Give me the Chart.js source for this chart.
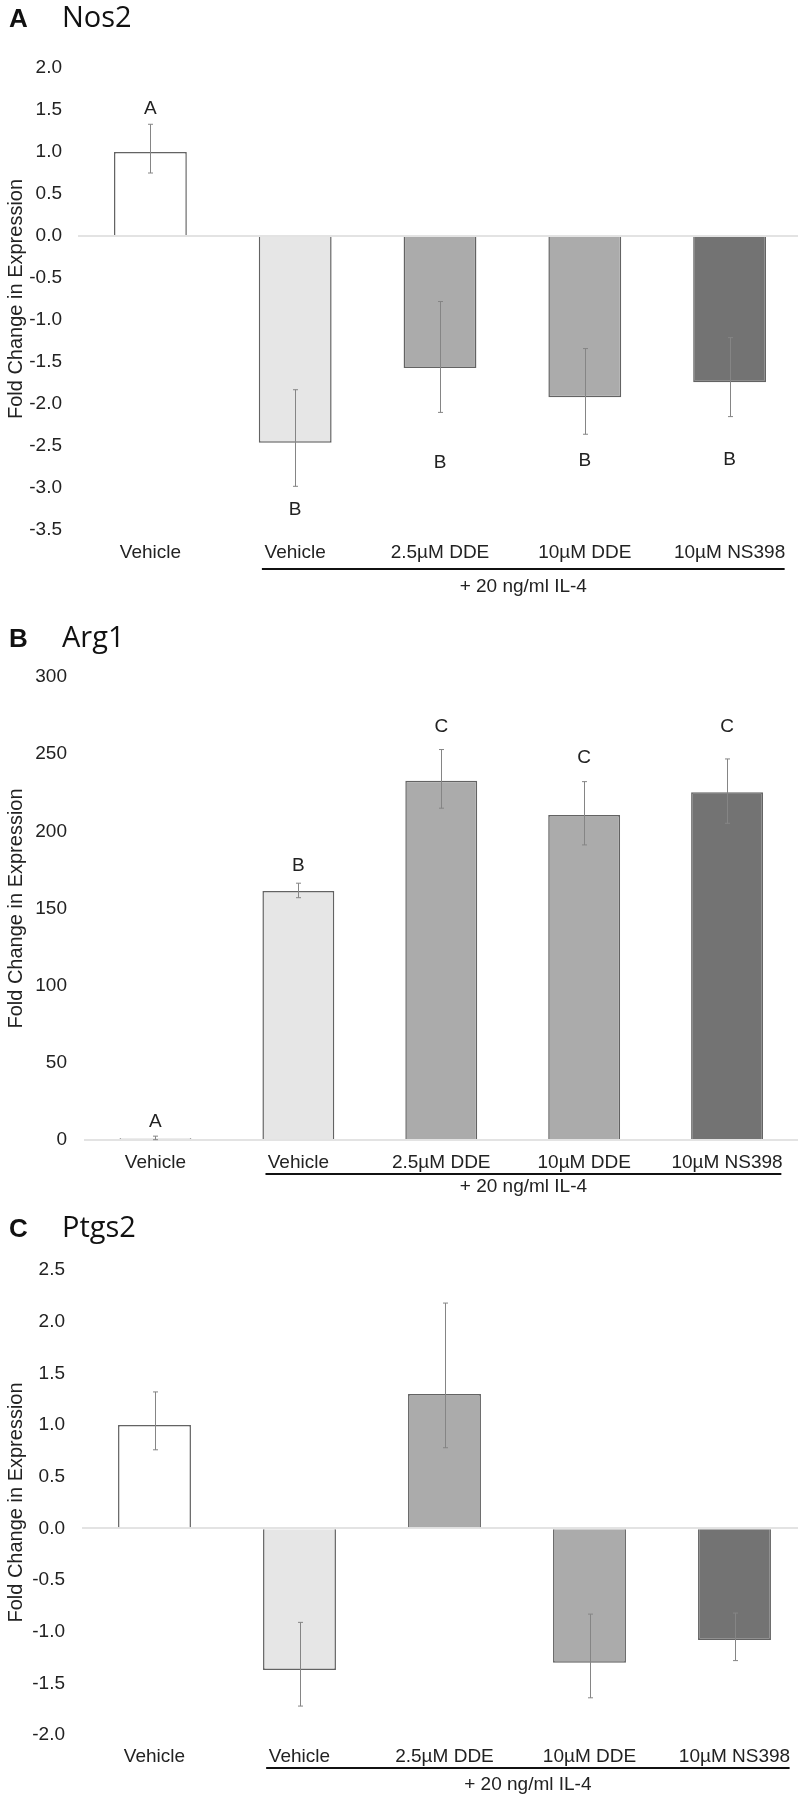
<!DOCTYPE html>
<html>
<head>
<meta charset="utf-8">
<script src="https://cdn.jsdelivr.net/npm/chart.js@4"></script>
<style>
  html, body { margin: 0; padding: 0; background: #fff; }
  #page { position: relative; width: 798px; height: 1800px; overflow: hidden; }
  canvas { position: absolute; left: 0; }
</style>
</head>
<body>
<div id="page">
  <canvas id="nos2Chart" width="810" height="605" style="top:0px"></canvas>
  <canvas id="arg1Chart" width="810" height="600" style="top:605px"></canvas>
  <canvas id="ptgs2Chart" width="810" height="595" style="top:1205px"></canvas>
</div>
<script>
const categories = ["Vehicle", "Vehicle", "2.5µM DDE", "10µM DDE", "10µM NS398"];
const barColors = ["#ffffff", "#e6e6e6", "#ababab", "#ababab", "#737373"];
const groupLabel = "+ 20 ng/ml IL-4";

// Nos2
const nos2Values = [1.0, -2.46, -1.57, -1.92, -1.74];
const nos2ErrHigh = [1.33, -1.83, -0.78, -1.34, -1.21];
const nos2ErrLow = [0.75, -2.98, -2.10, -2.36, -2.15];
const nos2Letters = ["A", "B", "B", "B", "B"];
const nos2LetterAt = [1.52, -3.26, -2.70, -2.68, -2.66];

// Arg1
const arg1Values = [1.2, 161.4, 232.7, 210.6, 225.3];
const arg1ErrHigh = [2.5, 166.4, 253.0, 232.2, 246.9];
const arg1ErrLow = [0.2, 157.0, 215.0, 191.2, 205.2];
const arg1Letters = ["A", "B", "C", "C", "C"];
const arg1LetterAt = [11.7, 178, 268, 247.6, 268];

// Ptgs2
const ptgs2Values = [1.0, -1.37, 1.30, -1.30, -1.08];
const ptgs2ErrHigh = [1.32, -0.91, 2.18, -0.83, -0.82];
const ptgs2ErrLow = [0.76, -1.72, 0.78, -1.64, -1.28];

const FONT = '"Liberation Sans", Arial, sans-serif';
Chart.defaults.font.family = FONT;
Chart.defaults.color = "#222";

// error bars, significance letters, IL-4 bracket and panel title
function extras(o) {
  return {
    id: "extras",
    afterDatasetsDraw(chart) {
      const ctx = chart.ctx;
      const xs = chart.scales.x, ys = chart.scales.y;
      const area = chart.chartArea;
      const bars = chart.getDatasetMeta(0).data;
      ctx.save();

      ctx.strokeStyle = "#858585";
      ctx.lineWidth = 1;
      bars.forEach((bar, i) => {
        const cx = Math.round(bar.x) + 0.5;
        const top = ys.getPixelForValue(o.high[i]);
        const bot = ys.getPixelForValue(o.low[i]);
        ctx.beginPath();
        ctx.moveTo(cx, top); ctx.lineTo(cx, bot);
        ctx.moveTo(cx - 2.5, top); ctx.lineTo(cx + 2.5, top);
        ctx.moveTo(cx - 2.5, bot); ctx.lineTo(cx + 2.5, bot);
        ctx.stroke();
      });

      ctx.fillStyle = "#222";
      ctx.font = "19px " + FONT;
      ctx.textAlign = "center";
      ctx.textBaseline = "middle";
      if (o.letters) {
        bars.forEach((bar, i) => {
          ctx.fillText(o.letters[i], bar.x, ys.getPixelForValue(o.letterAt[i]));
        });
      }

      const step = xs.getPixelForValue(1) - xs.getPixelForValue(0);
      const x0 = xs.getPixelForValue(1) - 0.23 * step;
      const x1 = xs.getPixelForValue(4) + 0.38 * step;
      ctx.fillStyle = "#111";
      ctx.fillRect(x0, area.bottom + o.lineGap - 1, x1 - x0, 2);
      ctx.fillStyle = "#222";
      ctx.fillText(groupLabel, (x0 + x1) / 2, area.bottom + o.groupGap);

      ctx.textAlign = "left";
      ctx.textBaseline = "alphabetic";
      ctx.fillStyle = "#111";
      ctx.font = "bold 26px " + FONT;
      ctx.fillText(o.panel, 9, o.titleBase);
      ctx.font = '29px "Open Sans", "Noto Sans", sans-serif';
      ctx.fillText(o.gene, 62, o.titleBase);
      ctx.restore();
    }
  };
}

function makeChart(id, values, yOpt, o) {
  const ctx = document.getElementById(id).getContext("2d");
  return new Chart(ctx, {
    type: "bar",
    data: {
      labels: categories,
      datasets: [{
        data: values,
        backgroundColor: barColors,
        borderColor: "#636363",
        borderWidth: 1.5,
        categoryPercentage: 1.0,
        barPercentage: 0.503
      }]
    },
    options: {
      responsive: false,
      animation: false,
      devicePixelRatio: 1,
      layout: { padding: { top: o.padTop, right: o.padRight, left: 0, bottom: 0 } },
      plugins: { legend: { display: false }, tooltip: { enabled: false } },
      scales: {
        x: {
          grid: { display: false, drawTicks: false },
          border: { display: false },
          ticks: { font: { size: 19 }, color: "#222", padding: o.labelPad, maxRotation: 0, autoSkip: false },
          afterFit: s => { s.height = o.axisHeight; }
        },
        y: {
          min: yOpt.min,
          max: yOpt.max,
          ticks: {
            stepSize: yOpt.step,
            padding: o.tickPad,
            font: { size: 19 },
            color: "#222",
            callback: v => yOpt.decimals ? Number(v).toFixed(1) : String(Math.round(v))
          },
          grid: {
            drawTicks: false,
            lineWidth: 2,
            color: c => (c.tick && Math.abs(c.tick.value) < 1e-9) ? "#e3e3e3" : "rgba(0,0,0,0)"
          },
          border: { display: false },
          title: {
            display: true,
            text: "Fold Change in Expression",
            font: { size: 20 },
            color: "#222",
            padding: { top: 4, bottom: 0 }
          },
          afterFit: s => { s.width = o.yWidth; }
        }
      }
    },
    plugins: [extras(o)]
  });
}

makeChart("nos2Chart", nos2Values,
  { min: -3.5, max: 2.0, step: 0.5, decimals: true },
  { padTop: 68, padRight: 8, axisHeight: 75, yWidth: 78, tickPad: 16, labelPad: 11.6,
    lineGap: 39, groupGap: 57, titleBase: 27, panel: "A", gene: "Nos2",
    high: nos2ErrHigh, low: nos2ErrLow, letters: nos2Letters, letterAt: nos2LetterAt });

makeChart("arg1Chart", arg1Values,
  { min: 0, max: 300, step: 50, decimals: false },
  { padTop: 72, padRight: 11.5, axisHeight: 65, yWidth: 84, tickPad: 17, labelPad: 11.1,
    lineGap: 34, groupGap: 47, titleBase: 42, panel: "B", gene: "Arg1",
    high: arg1ErrHigh, low: arg1ErrLow, letters: arg1Letters, letterAt: arg1LetterAt });

makeChart("ptgs2Chart", ptgs2Values,
  { min: -2.0, max: 2.5, step: 0.5, decimals: true },
  { padTop: 65, padRight: 3, axisHeight: 65, yWidth: 82, tickPad: 17, labelPad: 10.6,
    lineGap: 33, groupGap: 50, titleBase: 32, panel: "C", gene: "Ptgs2",
    high: ptgs2ErrHigh, low: ptgs2ErrLow });
</script>
</body>
</html>
